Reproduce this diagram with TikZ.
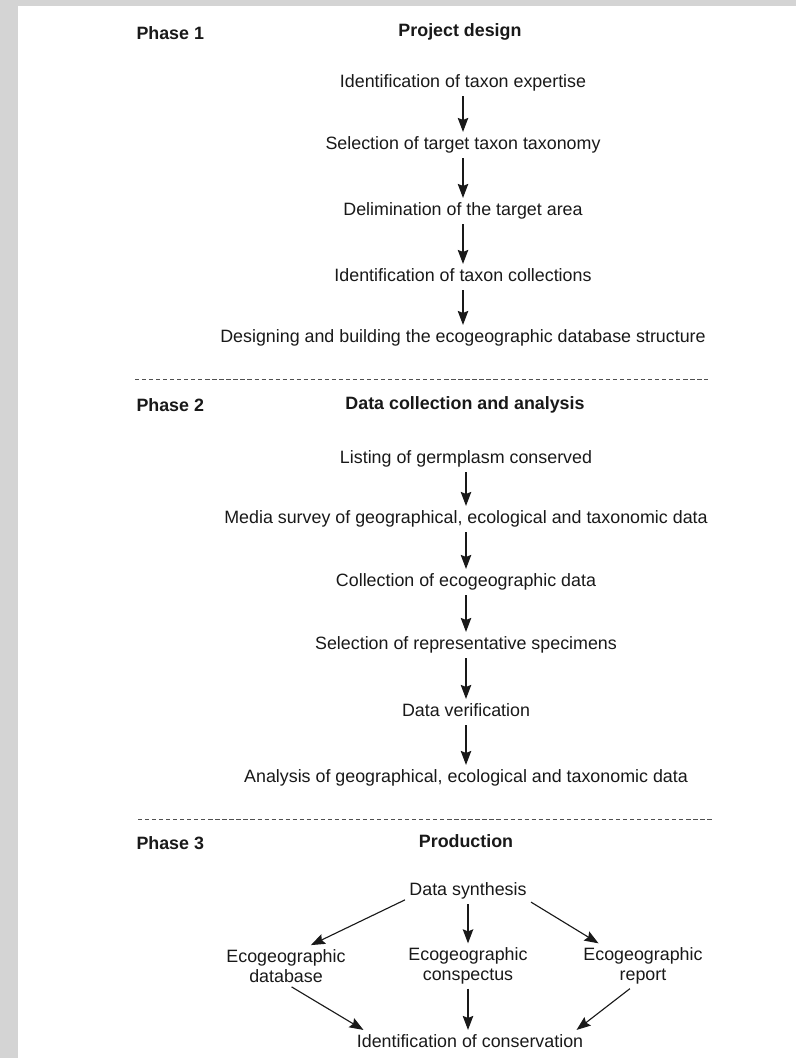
\documentclass[tikz,border=0pt]{standalone}
\usepackage{fontspec}
\setmainfont{Liberation Sans}
\usepackage{xcolor}
\usepackage{tikz}
\usetikzlibrary{arrows.meta}
\definecolor{egink}{RGB}{25,25,25}
\definecolor{egedge}{RGB}{212,212,212}
\definecolor{egrule}{RGB}{80,80,80}

\begin{document}
\begin{tikzpicture}[
    font=\fontsize{12.7}{14}\selectfont, text=egink,
    stage/.style={inner sep=3pt, text height=9.5pt, text depth=2.7pt},
    twoline/.style={inner sep=3pt, align=center},
    phase/.style={anchor=west, inner sep=3pt, font=\fontsize{12.7}{14}\selectfont\bfseries},
    head/.style={stage, font=\fontsize{12.7}{14}\selectfont\bfseries},
    flow/.style={draw=egink, line width=0.8pt, -{Stealth[length=10pt,width=7.5pt,inset=1.5pt]}},
    sepline/.style={draw=egrule, line width=0.7pt, dash pattern=on 3pt off 2pt}]

    \fill[egedge] (0,0) rectangle (19.9,-26.45);
    \fill[white] (0.45,-0.15) rectangle (19.9,-26.45);

    \node[phase] (ph1) at (3.3,-0.825) {Phase 1};
    \node[head] (pd) at (11.5,-0.8) {Project design};

    \node[stage] (expert) at (11.575,-2.075) {Identification of taxon expertise};
    \node[stage] (taxon) at (11.575,-3.625) {Selection of target taxon taxonomy};
    \node[stage] (area) at (11.575,-5.275) {Delimination of the target area};
    \node[stage] (colls) at (11.575,-6.925) {Identification of taxon collections};
    \node[stage] (dbase) at (11.575,-8.45) {Designing and building the ecogeographic database structure};

    \draw[flow] (expert) -- (taxon);
    \draw[flow] (taxon) -- (area);
    \draw[flow] (area) -- (colls);
    \draw[flow] (colls) -- (dbase);

    \draw[sepline] (3.375,-9.475) -- (17.7,-9.475);

    \node[phase] (ph2) at (3.3,-10.125) {Phase 2};
    \node[head] (dca) at (11.625,-10.125) {Data collection and analysis};

    \node[stage] (germ) at (11.65,-11.475) {Listing of germplasm conserved};
    \node[stage] (media) at (11.65,-12.975) {Media survey of geographical, ecological and taxonomic data};
    \node[stage] (ecodata) at (11.65,-14.55) {Collection of ecogeographic data};
    \node[stage] (spec) at (11.65,-16.125) {Selection of representative specimens};
    \node[stage] (verif) at (11.65,-17.8) {Data verification};
    \node[stage] (anal) at (11.65,-19.45) {Analysis of geographical, ecological and taxonomic data};

    \draw[flow] (germ) -- (media);
    \draw[flow] (media) -- (ecodata);
    \draw[flow] (ecodata) -- (spec);
    \draw[flow] (spec) -- (verif);
    \draw[flow] (verif) -- (anal);

    \draw[sepline] (3.45,-20.475) -- (17.8,-20.475);

    \node[phase] (ph3) at (3.3,-21.075) {Phase 3};
    \node[head] (prod) at (11.65,-21.075) {Production};

    \node[stage] (synth) at (11.7,-22.275) {Data synthesis};
    \node[twoline] (egdb) at (7.15,-24.15) {Ecogeographic\\database};
    \node[twoline] (egcon) at (11.7,-24.15) {Ecogeographic\\conspectus};
    \node[twoline] (egrep) at (16.075,-24.15) {Ecogeographic\\report};
    \node[stage] (conserv) at (11.75,-26.075) {Identification of conservation};

    \draw[flow] (synth.188) -- (egdb.40);
    \draw[flow] (synth.south) -- (egcon.north);
    \draw[flow] (synth.350) -- (egrep.153);
    \draw[flow] (egdb.-75) -- (conserv.173.5);
    \draw[flow] (egcon.south) -- (egcon.south |- conserv.north);
    \draw[flow] (egrep.-120) -- (conserv.7);
\end{tikzpicture}
\end{document}
